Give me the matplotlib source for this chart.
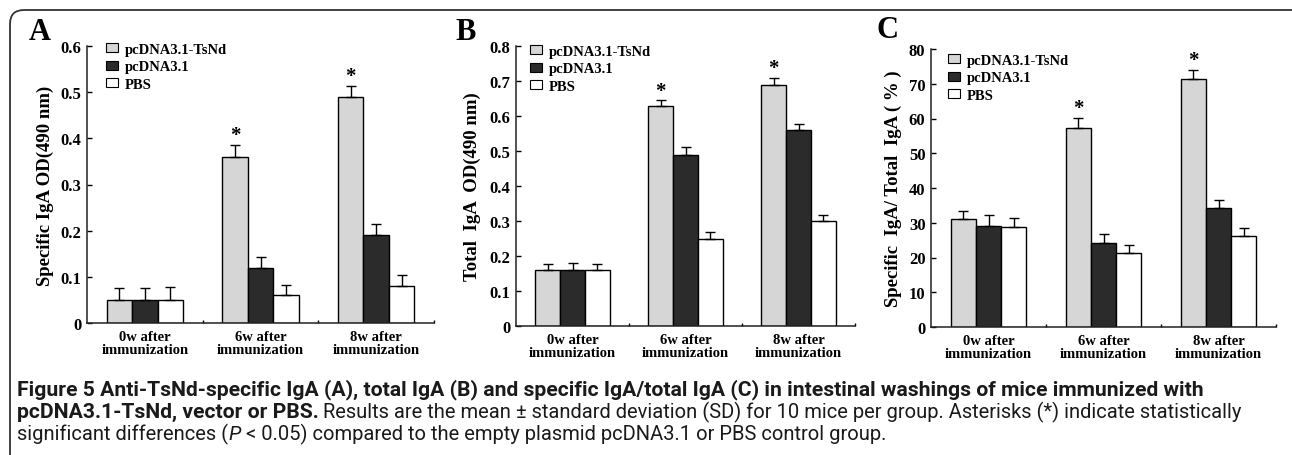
import matplotlib
matplotlib.use("Agg")
import matplotlib.pyplot as plt
from matplotlib import font_manager
from matplotlib.patches import FancyBboxPatch, Patch
import numpy as np

############################ データ ###################################
groups = ["0w after\nimmunization", "6w after\nimmunization", "8w after\nimmunization"]
series = ["pcDNA3.1-TsNd", "pcDNA3.1", "PBS"]

# A: specific IgA OD(490 nm)
tsnd_a = [0.05, 0.36, 0.49]
tsnd_a_sd = [0.026, 0.026, 0.024]
vec_a = [0.05, 0.12, 0.19]
vec_a_sd = [0.026, 0.023, 0.024]
pbs_a = [0.05, 0.06, 0.08]
pbs_a_sd = [0.027, 0.023, 0.025]

# B: total IgA OD(490 nm)
tsnd_b = [0.16, 0.63, 0.69]
tsnd_b_sd = [0.018, 0.015, 0.018]
vec_b = [0.16, 0.49, 0.56]
vec_b_sd = [0.021, 0.021, 0.018]
pbs_b = [0.16, 0.25, 0.30]
pbs_b_sd = [0.018, 0.019, 0.018]

# C: specific / total (%)
tsnd_c = [31.2, 57.2, 71.3]
tsnd_c_sd = [2.3, 2.9, 2.7]
vec_c = [29.1, 24.1, 34.2]
vec_c_sd = [3.0, 2.7, 2.3]
pbs_c = [28.7, 21.3, 26.1]
pbs_c_sd = [2.7, 2.3, 2.5]

# asterisk on pcDNA3.1-TsNd bars
signif = [False, True, True]

yticks_a = [0, 0.1, 0.2, 0.3, 0.4, 0.5, 0.6]
yticks_b = [0, 0.1, 0.2, 0.3, 0.4, 0.5, 0.6, 0.7, 0.8]
yticks_c = [0, 10, 20, 30, 40, 50, 60, 70, 80]
yticklabels_a = ["0", "0.1", "0.2", "0.3", "0.4", "0.5", "0.6"]
yticklabels_b = ["0", "0.1", "0.2", "0.3", "0.4", "0.5", "0.6", "0.7", "0.8"]
yticklabels_c = ["0", "10", "20", "30", "40", "50", "60", "70", "80"]

caption_1 = ("Figure 5 Anti-TsNd-specific IgA (A), total IgA (B) and specific IgA/total IgA (C) "
             "in intestinal washings of mice immunized with")
caption_2b = "pcDNA3.1-TsNd, vector or PBS."
caption_2r = ("Results are the mean \u00b1 standard deviation (SD) for 10 mice per group. "
              "Asterisks (*) indicate statistically")
caption_3a = "significant differences ("
caption_3p = "P"
caption_3b = " < 0.05) compared to the empty plasmid pcDNA3.1 or PBS control group."
#######################################################################

W, H = 1292, 456
SERIF = "Liberation Serif"
colors = ["#d6d6d6", "#2b2b2b", "#ffffff"]


def pick_caption_font():
    # 細めのサンセリフがあればそれを使う
    for name in ["Liberation Sans Narrow", "Roboto", "Liberation Sans"]:
        try:
            font_manager.findfont(name, fallback_to_default=False)
            return name
        except Exception:
            pass
    return "DejaVu Sans"


def px_rect(left, right, top, bottom):
    return [left / W, (H - bottom) / H, (right - left) / W, (bottom - top) / H]


def draw_panel(ax, data, sds, ylim, yticks, yticklabels, ylabel, label_dx, leg_dx, leg_dy):
    x = np.arange(len(groups))
    width = 0.22
    for i, (vals, sd) in enumerate(zip(data, sds)):
        pos = x + (i - 1) * width
        ax.bar(pos, vals, width, color=colors[i], edgecolor="black", linewidth=1.0,
               label=series[i], zorder=2)
        ax.errorbar(pos, vals, yerr=[np.zeros(len(sd)), sd], fmt="none", ecolor="black",
                    elinewidth=1.0, capsize=3.3, capthick=1.0, zorder=3)
        if i == 0:
            for p, v, s, flag in zip(pos, vals, sd, signif):
                if flag:
                    ax.annotate("*", (p, v + s), xytext=(0, 7), textcoords="offset points",
                                ha="center", va="center", fontsize=15, fontfamily=SERIF,
                                fontweight="bold")

    ax.set_xlim(-0.5, 2.5)
    ax.set_ylim(*ylim)
    ax.set_yticks(yticks)
    ax.set_yticklabels(yticklabels)
    ax.set_xticks(x)
    ax.set_xticklabels(groups, linespacing=1.0)
    ax.set_xticks([0.5, 1.5, 2.5], minor=True)

    for side in ["top", "right"]:
        ax.spines[side].set_visible(False)
    for side in ["left", "bottom"]:
        ax.spines[side].set_linewidth(1.1)
        ax.spines[side].set_color("#222222")

    ax.tick_params(axis="y", direction="in", length=3.5, width=1.0, pad=4, labelsize=12)
    ax.tick_params(axis="x", which="major", length=0, pad=5, labelsize=10.5)
    ax.tick_params(axis="x", which="minor", direction="in", length=2, width=1.0)
    for lab in ax.get_yticklabels() + ax.get_xticklabels():
        lab.set_fontfamily(SERIF)
        lab.set_fontweight("bold")

    ax.set_ylabel(ylabel, fontsize=13.5, fontfamily=SERIF, fontweight="bold", va="center")
    ax.yaxis.set_label_coords(label_dx, 0.5)

    handles = [Patch(facecolor=colors[i], edgecolor="black", linewidth=0.8) for i in range(3)]
    ax.legend(handles, series, loc="upper left", bbox_to_anchor=(leg_dx, leg_dy),
              frameon=False, borderpad=0, borderaxespad=0, handlelength=0.8,
              handleheight=0.6, handletextpad=0.5, labelspacing=0.3,
              prop=dict(family=SERIF, weight="bold", size=10.5))


def fit_size(fig, renderer, text, family, weight, target_px):
    probe = fig.text(0, 0, text, fontsize=10, fontfamily=family, fontweight=weight)
    size = 10 * target_px / probe.get_window_extent(renderer).width
    probe.remove()
    return size


def write_segments(fig, renderer, x_px, y_px, segments, family):
    x = x_px
    for text, weight, style, size in segments:
        t = fig.text(x / W, 1 - y_px / H, text, ha="left", va="baseline", fontsize=size,
                     fontfamily=family, fontweight=weight, fontstyle=style, color="#1a1a1a")
        bb = t.get_window_extent(renderer)
        x = bb.x1
    return x


def main():
    fig = plt.figure(figsize=(W / 100, H / 100), dpi=100)

    # 外枠（角丸）
    bg = fig.add_axes([0, 0, 1, 1], zorder=-1)
    bg.set_xlim(0, W)
    bg.set_ylim(H, 0)
    bg.axis("off")
    bg.add_patch(FancyBboxPatch((10, 11), W + 20, H + 10,
                                boxstyle="round,pad=0,rounding_size=14",
                                facecolor="none", edgecolor="#333333", linewidth=1.3))

    ax_a = fig.add_axes(px_rect(87, 434, 47, 324))
    ax_b = fig.add_axes(px_rect(516, 855, 47, 327))
    ax_c = fig.add_axes(px_rect(931, 1276, 50, 328))

    draw_panel(ax_a, [tsnd_a, vec_a, pbs_a], [tsnd_a_sd, vec_a_sd, pbs_a_sd], (0, 0.6),
               yticks_a, yticklabels_a, "Specific IgA OD(490 nm)", -42 / 347,
               19 / 347, 1 + 3 / 277)
    draw_panel(ax_b, [tsnd_b, vec_b, pbs_b], [tsnd_b_sd, vec_b_sd, pbs_b_sd], (0, 0.8),
               yticks_b, yticklabels_b, "Total  IgA  OD(490 nm)", -44 / 339,
               14 / 339, 1 + 1 / 280)
    draw_panel(ax_c, [tsnd_c, vec_c, pbs_c], [tsnd_c_sd, vec_c_sd, pbs_c_sd], (0, 80),
               yticks_c, yticklabels_c, "Specific  IgA/ Total  IgA ( % )", -38 / 345,
               17 / 345, 1 - 5 / 278)

    # パネル記号
    for letter, xp, yp in [("A", 40, 32), ("B", 466, 33), ("C", 887, 30)]:
        fig.text(xp / W, 1 - yp / H, letter, ha="center", va="center", fontsize=22,
                 fontfamily=SERIF, fontweight="bold")

    # キャプション: 参照の行幅に合わせて文字サイズを決める
    fig.canvas.draw()
    renderer = fig.canvas.get_renderer()
    cap_font = pick_caption_font()
    bold_size = fit_size(fig, renderer, caption_1, cap_font, "bold", 1208 - 17)
    reg_size = fit_size(fig, renderer, caption_2r, cap_font, "normal", 1166 - 242)

    write_segments(fig, renderer, 17, 395, [(caption_1, "bold", "normal", bold_size)], cap_font)
    x = write_segments(fig, renderer, 17, 418,
                       [(caption_2b, "bold", "normal", bold_size)], cap_font)
    write_segments(fig, renderer, x + 4, 418,
                   [(caption_2r, "normal", "normal", reg_size)], cap_font)
    write_segments(fig, renderer, 17, 440,
                   [(caption_3a, "normal", "normal", reg_size),
                    (caption_3p, "normal", "italic", reg_size),
                    (caption_3b, "normal", "normal", reg_size)], cap_font)

    fig.savefig("out.png", dpi=100)


if __name__ == "__main__":
    main()
